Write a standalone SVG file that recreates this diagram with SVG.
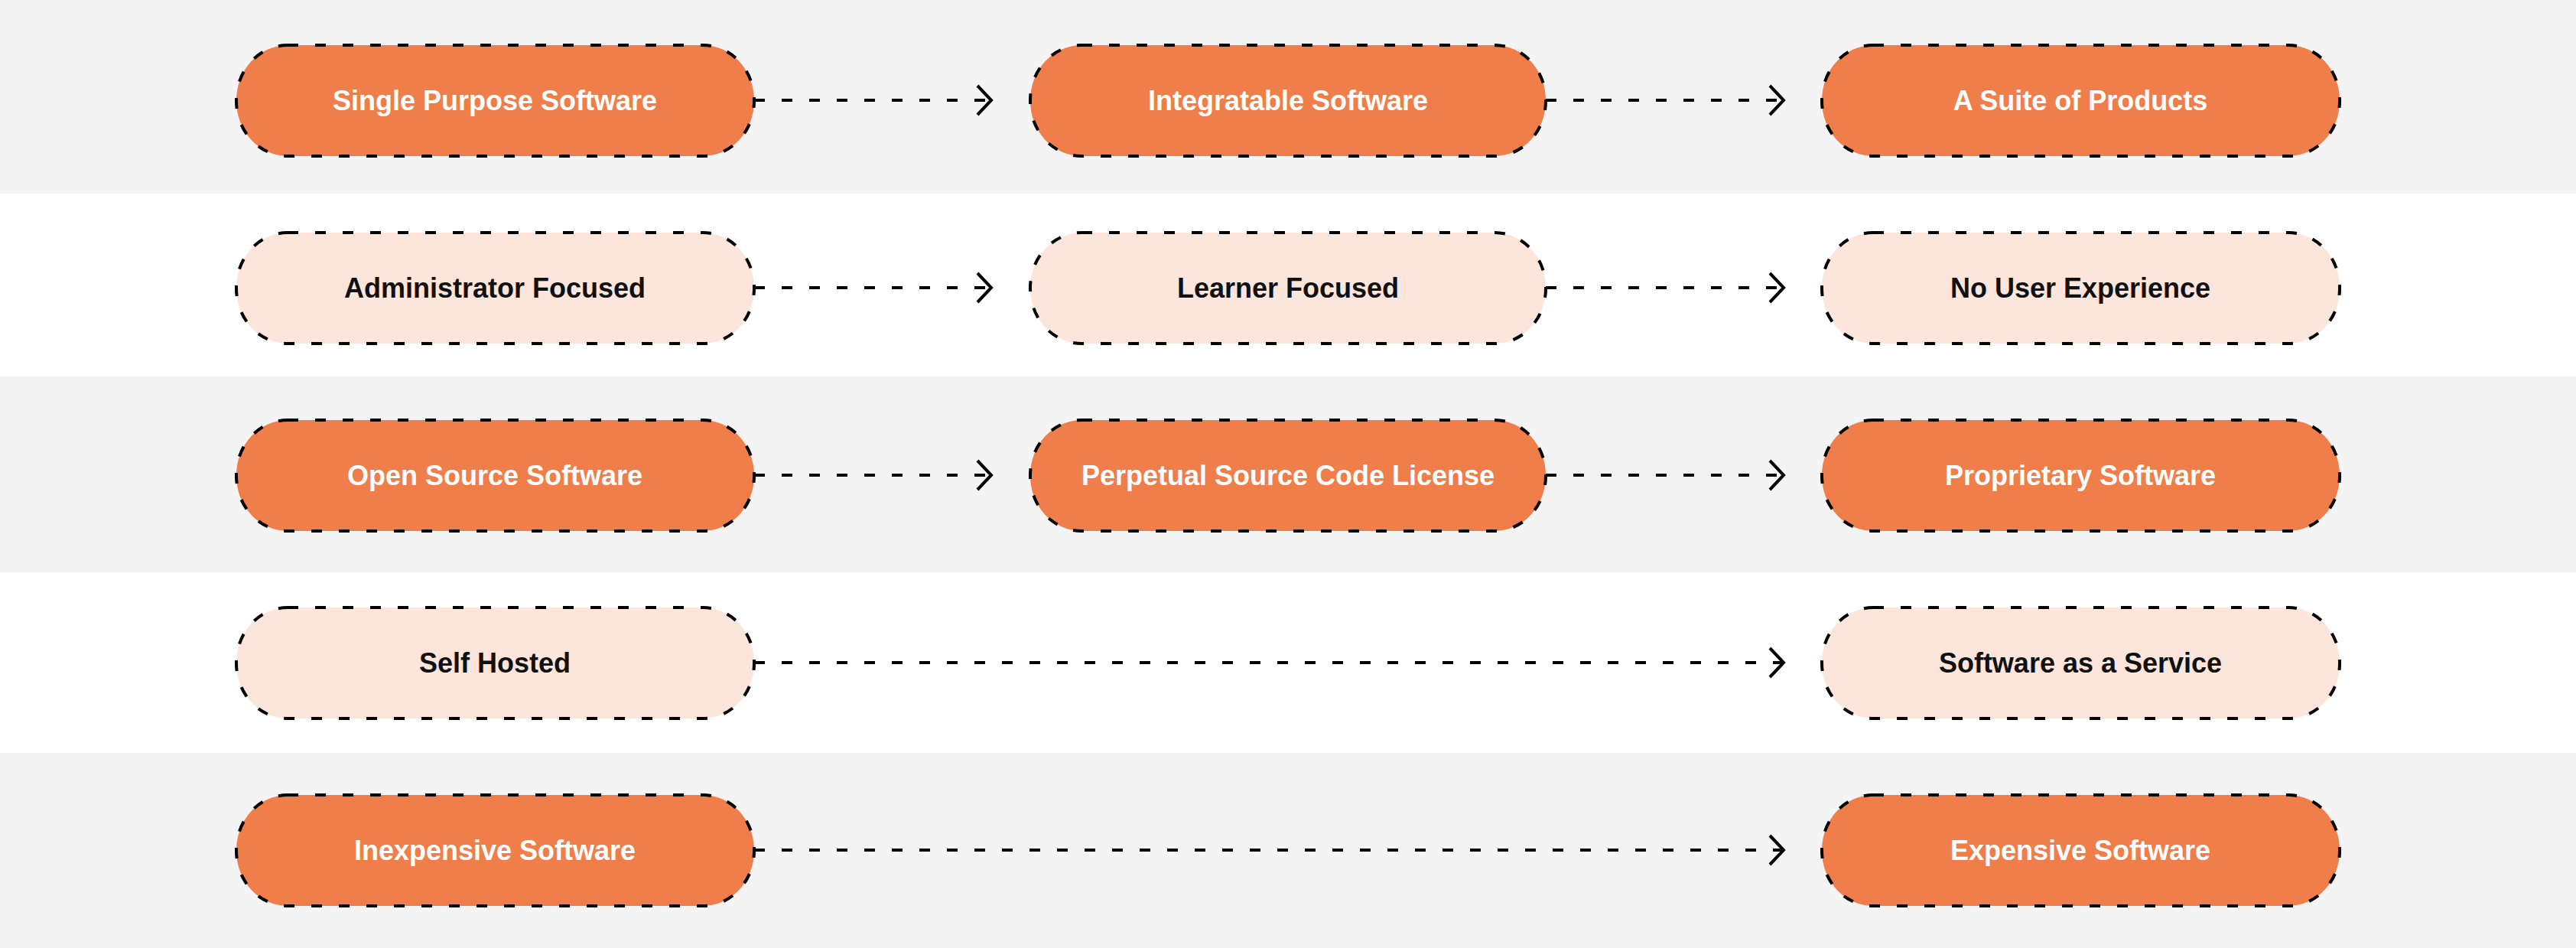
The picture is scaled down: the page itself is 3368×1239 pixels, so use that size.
<svg xmlns="http://www.w3.org/2000/svg" width="3368" height="1239" viewBox="0 0 3368 1239">
<style>
.n rect{stroke:#000;stroke-width:4;stroke-dasharray:14 22}
.d rect{fill:#F07E4A}.l rect{fill:#FCE6DC}
.n text{font-family:"Liberation Sans",Arial,sans-serif;font-weight:bold;font-size:36px;text-anchor:middle;dominant-baseline:central}
.d text{fill:#fff}.l text{fill:#111}
.c line{stroke:#000;stroke-width:4;stroke-dasharray:14 22}
.c path{fill:none;stroke:#000;stroke-width:4}
</style>
<rect width="3368" height="1239" fill="#fff"/>
<rect y="0" width="3368" height="253" fill="#F4F4F4"/>
<rect y="492" width="3368" height="256" fill="#F4F4F4"/>
<rect y="984" width="3368" height="255" fill="#F4F4F4"/>
<g class="c" id="connectors">
<line x1="986" y1="131" x2="1294" y2="131"/><path d="M1278 112L1296 131L1278 150"/>
<line x1="2021" y1="131" x2="2330" y2="131"/><path d="M2314 112L2332 131L2314 150"/>
<line x1="986" y1="376" x2="1294" y2="376"/><path d="M1278 357L1296 376L1278 395"/>
<line x1="2021" y1="376" x2="2330" y2="376"/><path d="M2314 357L2332 376L2314 395"/>
<line x1="986" y1="621" x2="1294" y2="621"/><path d="M1278 602L1296 621L1278 640"/>
<line x1="2021" y1="621" x2="2330" y2="621"/><path d="M2314 602L2332 621L2314 640"/>
<line x1="986" y1="866" x2="2330" y2="866"/><path d="M2314 847L2332 866L2314 885"/>
<line x1="986" y1="1111" x2="2330" y2="1111"/><path d="M2314 1092L2332 1111L2314 1130"/>
</g>
<g id="n1" class="n d"><rect x="309" y="59" width="677" height="145" rx="67" ry="72"/><text x="647" y="131">Single Purpose Software</text></g>
<g id="n2" class="n d"><rect x="1347" y="59" width="674" height="145" rx="67" ry="72"/><text x="1684" y="131">Integratable Software</text></g>
<g id="n3" class="n d"><rect x="2382" y="59" width="677" height="145" rx="67" ry="72"/><text x="2720" y="131">A Suite of Products</text></g>
<g id="n4" class="n l"><rect x="309" y="304" width="677" height="145" rx="67" ry="72"/><text x="647" y="376">Administrator Focused</text></g>
<g id="n5" class="n l"><rect x="1347" y="304" width="674" height="145" rx="67" ry="72"/><text x="1684" y="376">Learner Focused</text></g>
<g id="n6" class="n l"><rect x="2382" y="304" width="677" height="145" rx="67" ry="72"/><text x="2720" y="376">No User Experience</text></g>
<g id="n7" class="n d"><rect x="309" y="549" width="677" height="145" rx="67" ry="72"/><text x="647" y="621">Open Source Software</text></g>
<g id="n8" class="n d"><rect x="1347" y="549" width="674" height="145" rx="67" ry="72"/><text x="1684" y="621">Perpetual Source Code License</text></g>
<g id="n9" class="n d"><rect x="2382" y="549" width="677" height="145" rx="67" ry="72"/><text x="2720" y="621">Proprietary Software</text></g>
<g id="n10" class="n l"><rect x="309" y="794" width="677" height="145" rx="67" ry="72"/><text x="647" y="866">Self Hosted</text></g>
<g id="n11" class="n l"><rect x="2382" y="794" width="677" height="145" rx="67" ry="72"/><text x="2720" y="866">Software as a Service</text></g>
<g id="n12" class="n d"><rect x="309" y="1039" width="677" height="145" rx="67" ry="72"/><text x="647" y="1111">Inexpensive Software</text></g>
<g id="n13" class="n d"><rect x="2382" y="1039" width="677" height="145" rx="67" ry="72"/><text x="2720" y="1111">Expensive Software</text></g>
</svg>
